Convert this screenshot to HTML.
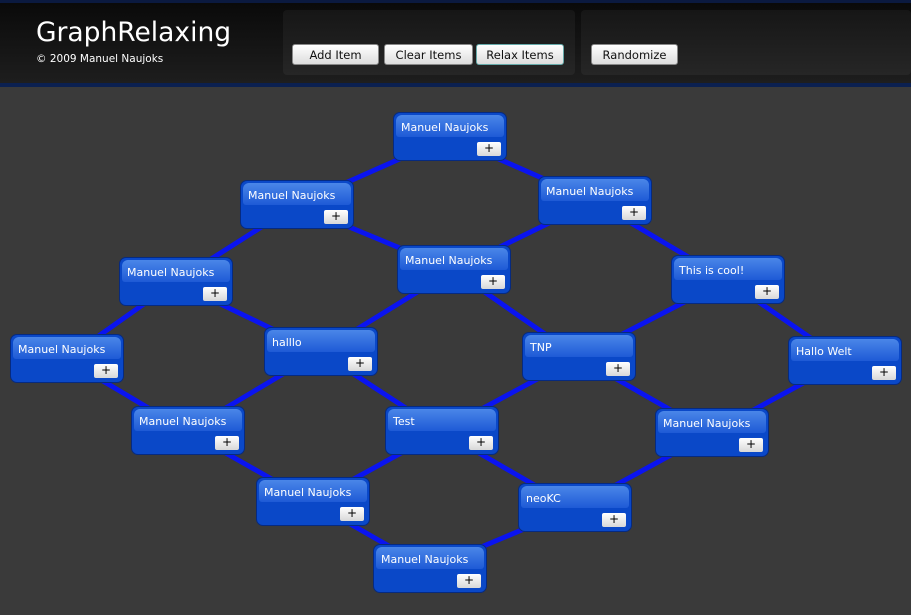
<!DOCTYPE html><html><head><style>
body{margin:0;width:911px;height:615px;background:#3a3a3a;overflow:hidden;position:relative;font-family:"DejaVu Sans","Liberation Sans",sans-serif}
.hdr{position:absolute;left:0;top:0;width:911px;height:84px;background:linear-gradient(#0a0a0a,#1e1e1e);border-top:3px solid #0b1a40;box-sizing:border-box}
.bl{position:absolute;left:0;top:83px;width:911px;height:4px;background:#0b2050}
.panel{position:absolute;top:10px;height:65px;background:linear-gradient(#161616,#262626);border-radius:4px}
.btn{position:absolute;top:44px;height:21px;background:linear-gradient(#fff,#ddd);border:1px solid #888;border-radius:3px;font-size:11.5px;line-height:20px;text-align:center;color:#111;box-sizing:border-box}
.n{position:absolute;width:114px;height:49px;background:#0a48c8;border:1px solid #062a80;border-radius:7px;box-sizing:border-box;color:#fff;font-size:11px}
.n:before{content:"";position:absolute;left:2px;right:2px;top:2px;height:22px;border-radius:6px 6px 3px 3px;background:linear-gradient(#4a86e8,#1e5ad6)}
.n span{position:absolute;left:7px;top:8px}
.n i{position:absolute;right:5px;bottom:4px;width:24px;height:14px;background:linear-gradient(#fff,#d8d8d8);border-radius:2px;color:#000;font-style:normal;font-size:12px;line-height:13px;text-align:center}
</style></head><body>
<div class="hdr"></div><div class="bl"></div>
<div style="position:absolute;left:36px;top:17px;color:#fff;font-size:26.5px">GraphRelaxing</div>
<div style="position:absolute;left:36px;top:53px;color:#fff;font-size:10.5px">© 2009 Manuel Naujoks</div>
<div class="panel" style="left:283px;width:292px"></div>
<div class="panel" style="left:581px;width:330px"></div>
<div class="btn" style="left:292px;width:87px">Add Item</div>
<div class="btn" style="left:384px;width:89px">Clear Items</div>
<div class="btn" style="left:476px;width:88px;border-color:#6aa">Relax Items</div>
<div class="btn" style="left:591px;width:87px">Randomize</div>
<svg style="position:absolute;left:0;top:0" width="911" height="615"><g stroke="#0a14f0" stroke-width="5">
<line x1="449" y1="137" x2="296" y2="205"/><line x1="449" y1="137" x2="594" y2="201"/>
<line x1="296" y1="205" x2="175" y2="282"/><line x1="296" y1="205" x2="453" y2="270"/>
<line x1="594" y1="201" x2="453" y2="270"/><line x1="594" y1="201" x2="727" y2="280"/>
<line x1="175" y1="282" x2="66" y2="359"/><line x1="175" y1="282" x2="320" y2="352"/>
<line x1="453" y1="270" x2="320" y2="352"/><line x1="453" y1="270" x2="578" y2="357"/>
<line x1="727" y1="280" x2="578" y2="357"/><line x1="727" y1="280" x2="844" y2="361"/>
<line x1="66" y1="359" x2="187" y2="431"/><line x1="320" y1="352" x2="187" y2="431"/>
<line x1="320" y1="352" x2="441" y2="431"/><line x1="578" y1="357" x2="441" y2="431"/>
<line x1="578" y1="357" x2="711" y2="433"/><line x1="844" y1="361" x2="711" y2="433"/>
<line x1="187" y1="431" x2="312" y2="502"/><line x1="441" y1="431" x2="312" y2="502"/>
<line x1="441" y1="431" x2="574" y2="508"/><line x1="711" y1="433" x2="574" y2="508"/>
<line x1="312" y1="502" x2="429" y2="569"/><line x1="574" y1="508" x2="429" y2="569"/>
</g></svg>
<div class="n" style="left:393px;top:112px"><span>Manuel Naujoks</span><i>+</i></div>
<div class="n" style="left:240px;top:180px"><span>Manuel Naujoks</span><i>+</i></div>
<div class="n" style="left:538px;top:176px"><span>Manuel Naujoks</span><i>+</i></div>
<div class="n" style="left:119px;top:257px"><span>Manuel Naujoks</span><i>+</i></div>
<div class="n" style="left:397px;top:245px"><span>Manuel Naujoks</span><i>+</i></div>
<div class="n" style="left:671px;top:255px"><span>This is cool!</span><i>+</i></div>
<div class="n" style="left:10px;top:334px"><span>Manuel Naujoks</span><i>+</i></div>
<div class="n" style="left:264px;top:327px"><span>halllo</span><i>+</i></div>
<div class="n" style="left:522px;top:332px"><span>TNP</span><i>+</i></div>
<div class="n" style="left:788px;top:336px"><span>Hallo Welt</span><i>+</i></div>
<div class="n" style="left:131px;top:406px"><span>Manuel Naujoks</span><i>+</i></div>
<div class="n" style="left:385px;top:406px"><span>Test</span><i>+</i></div>
<div class="n" style="left:655px;top:408px"><span>Manuel Naujoks</span><i>+</i></div>
<div class="n" style="left:256px;top:477px"><span>Manuel Naujoks</span><i>+</i></div>
<div class="n" style="left:518px;top:483px"><span>neoKC</span><i>+</i></div>
<div class="n" style="left:373px;top:544px"><span>Manuel Naujoks</span><i>+</i></div>
</body></html>
